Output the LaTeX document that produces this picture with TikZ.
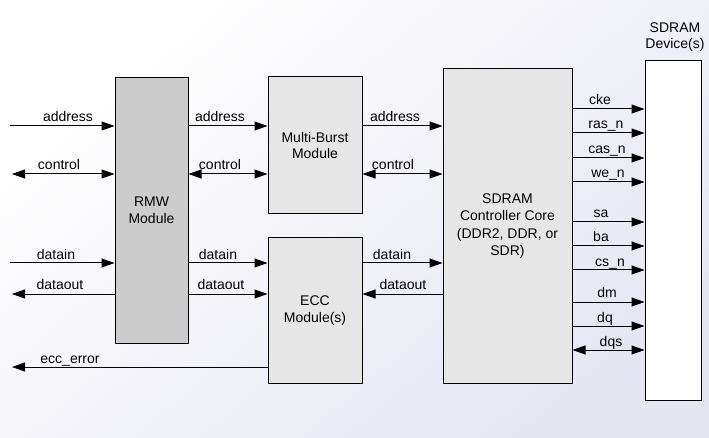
\documentclass[tikz,border=0pt]{standalone}
\usepackage{fontspec}
\setmainfont{Liberation Sans}
\usetikzlibrary{arrows.meta}
\definecolor{bgc}{RGB}{230,230,243}
\definecolor{darkbox}{RGB}{204,204,204}
\definecolor{lightbox}{RGB}{230,230,230}
\tikzset{
  box/.style={draw=black, line width=1pt, align=center, inner sep=0pt, font=\fontsize{14}{16.5}\selectfont},
  lab/.style={anchor=base, inner sep=0pt, font=\fontsize{14}{16}\selectfont},
  sig/.style={line width=1pt, -{Triangle[length=13pt,width=9pt]}},
  bsig/.style={line width=1pt, {Triangle[length=13pt,width=9pt]}-{Triangle[length=13pt,width=9pt]}},
}
\begin{document}
\begin{tikzpicture}[x=1pt,y=-1pt]
\shade[top color=white, bottom color=bgc, shading angle=40] (0,0) rectangle (709,438);
\useasboundingbox (0,0) rectangle (709,438);

% boxes
\node[box, fill=darkbox, minimum width=73pt, minimum height=265pt] (rmw) at (151.5,210.5) {RMW\\Module};
\node[box, fill=lightbox, minimum width=94pt, minimum height=137pt] (mb) at (315,145.5) {Multi-Burst\\Module};
\node[box, fill=lightbox, minimum width=94pt, minimum height=145pt] (ecc) at (315,310.5) {ECC\\Module(s)};
\node[box, fill=lightbox, minimum width=129pt, minimum height=314pt, font=\fontsize{14}{17.5}\selectfont] (core) at (507.5,226) {SDRAM\\Controller Core\\(DDR2, DDR, or\\SDR)};
\node[box, fill=white, minimum width=56pt, minimum height=339pt] (dev) at (673,230.5) {};
\node[align=center, inner sep=0pt, font=\fontsize{14}{16.5}\selectfont] (devlab) at (675,37) {SDRAM\\Device(s)};

% row coordinates
\coordinate (yA) at (0,126);
\coordinate (yC) at (0,174);
\coordinate (yDi) at (0,263);
\coordinate (yDo) at (0,294);
\coordinate (yE) at (0,367);
\coordinate (inA) at (10,126);
\coordinate (inC) at (12,174);
\coordinate (inDi) at (10,263);
\coordinate (outDo) at (12,294);
\coordinate (outE) at (12,367);

% left column
\draw[sig] (inA) -- (rmw.west |- yA);
\node[lab] (l1) at (68,122) {address};
\draw[bsig] (inC) -- (rmw.west |- yC);
\node[lab] (l2) at (59,170) {control};
\draw[sig] (inDi) -- (rmw.west |- yDi);
\node[lab] (l3) at (56,259) {datain};
\draw[sig] (rmw.west |- yDo) -- (outDo);
\node[lab] (l4) at (60,290) {dataout};
\draw[sig] (ecc.west |- yE) -- (outE);
\node[lab] (l5) at (70,363) {ecc\_error};

% middle column
\draw[sig] (rmw.east |- yA) -- (mb.west |- yA);
\node[lab] (m1) at (220,122) {address};
\draw[bsig] (rmw.east |- yC) -- (mb.west |- yC);
\node[lab] (m2) at (220,170) {control};
\draw[sig] (rmw.east |- yDi) -- (ecc.west |- yDi);
\node[lab] (m3) at (218,259) {datain};
\draw[sig] (rmw.east |- yDo) -- (ecc.west |- yDo);
\node[lab] (m4) at (221,290) {dataout};

% third column
\draw[sig] (mb.east |- yA) -- (core.west |- yA);
\node[lab] (r1) at (395,122) {address};
\draw[bsig] (mb.east |- yC) -- (core.west |- yC);
\node[lab] (r2) at (393,170) {control};
\draw[sig] (ecc.east |- yDi) -- (core.west |- yDi);
\node[lab] (r3) at (392,259) {datain};
\draw[sig] (core.west |- yDo) -- (ecc.east |- yDo);
\node[lab] (r4) at (403,290) {dataout};

% device signals
\foreach \y/\t/\x [count=\i] in {109/cke/600, 133/ras\_n/606, 158/cas\_n/607, 182/we\_n/608, 222/sa/601, 246/ba/601, 270/cs\_n/610, 302/dm/607, 326/dq/605}{
  \coordinate (s\i) at (0,\y);
  \draw[sig] (core.east |- s\i) -- (dev.west |- s\i);
  \node[lab] (t\i) at (\x,\y-4) {\t};
}
\coordinate (sdqs) at (0,350);
\draw[bsig] (core.east |- sdqs) -- (dev.west |- sdqs);
\node[lab] (tdqs) at (611,346) {dqs};
\end{tikzpicture}
\end{document}
